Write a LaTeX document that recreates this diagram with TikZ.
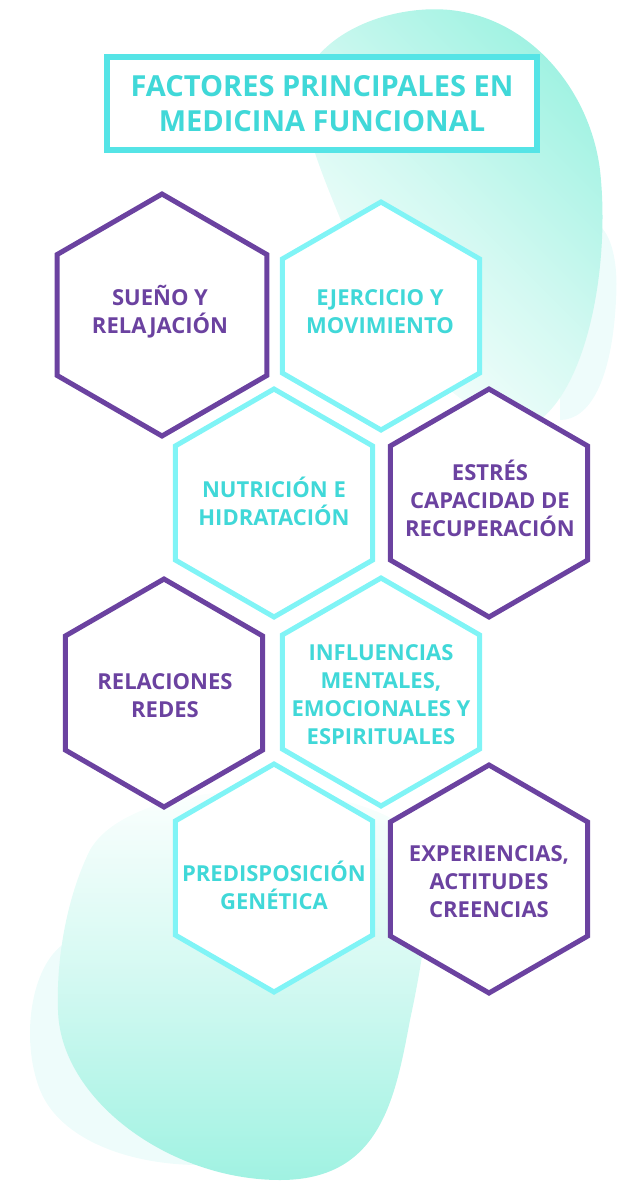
\documentclass[tikz,border=0pt]{standalone}
\usepackage{fontspec}
\setmainfont{Open Sans}
\usepackage{tikz}
\usetikzlibrary{shapes.geometric}

\definecolor{morado}{RGB}{107,66,160}
\definecolor{aqualinea}{RGB}{128,244,246}
\definecolor{aquatexto}{RGB}{64,216,216}
\definecolor{aquamarco}{RGB}{85,228,230}
\definecolor{menta}{RGB}{160,242,226}
\definecolor{mentaclara}{RGB}{238,252,251}

\tikzset{
  hexa/.style={regular polygon, regular polygon sides=6, shape border rotate=30, minimum size=228pt, fill=white, line width=5pt, inner sep=0pt},
  hexmorado/.style={hexa, draw=morado},
  hexaqua/.style={hexa, draw=aqualinea},
  txt/.style={align=center, inner sep=0pt, font=\bfseries\fontsize{22}{28}\selectfont},
  txtmorado/.style={txt, text=morado},
  txtaqua/.style={txt, text=aquatexto},
}

\begin{document}
\begin{tikzpicture}[x=1pt,y=1pt,yscale=-1,xscale=1]
\useasboundingbox (0,0) rectangle (616,1183);

%Shape: Blob top right (light lobe)
\fill [mentaclara] (560,230) .. controls (600,200) and (620,240) .. (616,300) .. controls (612,380) and (590,420) .. (560,420) -- cycle ;
%Shape: Blob top right
\shade [top color=menta, bottom color=white, middle color=menta!45!white, shading angle=-45] (305,75) .. controls (330,25) and (400,5) .. (450,10) .. controls (530,18) and (590,90) .. (600,170) .. controls (610,260) and (590,380) .. (540,420) .. controls (470,440) and (390,340) .. (345,230) .. controls (320,170) and (295,110) .. (305,75) -- cycle ;
%Shape: Blob bottom left (light lobe)
\fill [mentaclara] (70,940) .. controls (30,960) and (20,1040) .. (40,1090) .. controls (60,1140) and (130,1165) .. (200,1165) -- (120,940) -- cycle ;
%Shape: Blob bottom left
\shade [top color=white, bottom color=menta, middle color=menta!45!white] (90,850) .. controls (130,780) and (330,770) .. (410,830) .. controls (440,860) and (425,950) .. (410,1020) .. controls (395,1100) and (380,1180) .. (280,1180) .. controls (170,1180) and (60,1100) .. (58,1010) .. controls (56,950) and (70,890) .. (90,850) -- cycle ;

%Title box
\node [draw=aquamarco, line width=5.5pt, fill=white, minimum width=430pt, minimum height=93pt, inner sep=0pt, align=center, text=aquatexto, font=\bfseries\fontsize{29}{35}\selectfont] (titulo) at (322,103.5) {FACTORES PRINCIPALES EN\\MEDICINA FUNCIONAL};

%Hexagons
\node [hexmorado, minimum size=242pt] (hsuenio) at (162,315) {};
\node [hexaqua] (hejercicio) at (381,316) {};
\node [hexaqua] (hnutricion) at (274,503) {};
\node [hexmorado] (hestres) at (489,503) {};
\node [hexmorado] (hrelaciones) at (164,693) {};
\node [hexaqua] (hinfluencias) at (381,692) {};
\node [hexaqua] (hpredisposicion) at (274,878) {};
\node [hexmorado] (hexperiencias) at (489,879) {};

%Texts
\node [txtmorado] (suenio) at (160,312) {SUEÑO Y\\RELAJACIÓN};
\node [txtaqua] (ejercicio) at (380,312) {EJERCICIO Y\\MOVIMIENTO};
\node [txtaqua] (nutricion) at (274,501) {NUTRICIÓN E\\HIDRATACIÓN};
\node [txtmorado] (estres) at (490,498) {ESTRÉS\\CAPACIDAD DE\\RECUPERACIÓN};
\node [txtmorado] (relaciones) at (165,696) {RELACIONES\\REDES};
\node [txtaqua] (influencias) at (381,695) {INFLUENCIAS\\MENTALES,\\EMOCIONALES Y\\ESPIRITUALES};
\node [txtaqua] (predisposicion) at (274,885) {PREDISPOSICIÓN\\GENÉTICA};
\node [txtmorado] (experiencias) at (489,882) {EXPERIENCIAS,\\ACTITUDES\\CREENCIAS};

\end{tikzpicture}
\end{document}
